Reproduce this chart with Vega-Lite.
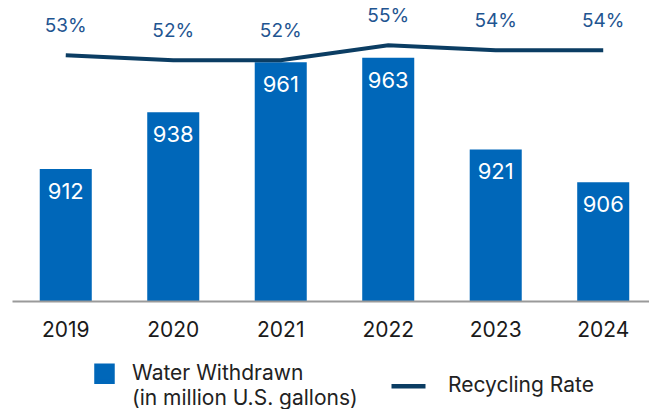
{
  "$schema": "https://vega.github.io/schema/vega-lite/v6.json",
  "width": 637,
  "height": 301,
  "padding": {"left": 12, "top": 0, "right": 0, "bottom": 0},
  "background": "white",
  "config": {
    "view": {"stroke": null},
    "font": "Inter",
    "axis": {"grid": false}
  },
  "data": {
    "values": [
      {"year": "2019", "withdrawn": 912, "rate": 53, "rate_label": "53%"},
      {"year": "2020", "withdrawn": 938, "rate": 52, "rate_label": "52%"},
      {"year": "2021", "withdrawn": 961, "rate": 52, "rate_label": "52%"},
      {"year": "2022", "withdrawn": 963, "rate": 55, "rate_label": "55%"},
      {"year": "2023", "withdrawn": 921, "rate": 54, "rate_label": "54%"},
      {"year": "2024", "withdrawn": 906, "rate": 54, "rate_label": "54%"}
    ]
  },
  "encoding": {
    "x": {
      "field": "year",
      "type": "ordinal",
      "scale": {"paddingInner": 0.516, "paddingOuter": 0.221, "align": 0.584},
      "axis": {
        "title": null,
        "labelAngle": 0,
        "ticks": false,
        "domainColor": "#9a9a9a",
        "domainWidth": 2,
        "labelFontSize": 21,
        "labelFont": "Inter",
        "labelColor": "#1a1a1a",
        "labelPadding": 18,
        "zindex": 1
      }
    }
  },
  "layer": [
    {
      "layer": [
        {
          "mark": {"type": "bar", "clip": true},
          "encoding": {
            "y": {"field": "withdrawn", "type": "quantitative", "scale": {"domain": [851.5, 989.5], "zero": false, "nice": false}, "axis": null},
            "color": {
              "datum": "Water Withdrawn",
              "type": "nominal",
              "scale": {"domain": ["Water Withdrawn", "Recycling Rate"], "range": ["#0067b9", "#0b3d63"]},
              "legend": {
                "title": null,
                "orient": "none",
                "legendX": 61,
                "legendY": 354,
                "direction": "horizontal",
                "symbolSize": 1156,
                "labelOffset": 20,
                "columnPadding": 24,
                "labelFontSize": 21,
                "labelFont": "Inter",
                "labelColor": "#222222",
                "labelLimit": 400,
                "labelExpr": "datum.label == 'Water Withdrawn' ? ['Water Withdrawn', '(in million U.S. gallons)'] : datum.label",
                "encode": {
                  "symbols": {
                    "update": {
                      "shape": {"signal": "datum.value == 'Water Withdrawn' ? 'M0.235,-0.47H1.176V0.47H0.235Z' : 'stroke'"},
                      "fill": {"signal": "datum.value == 'Water Withdrawn' ? '#0067b9' : 'transparent'"},
                      "stroke": {"signal": "datum.value == 'Water Withdrawn' ? 'transparent' : '#0b3d63'"},
                      "strokeWidth": {"value": 4.5},
                      "opacity": {"value": 1}
                    }
                  },
                  "labels": {"update": {"lineHeight": {"value": 25}}}
                }
              }
            }
          }
        },
        {
          "mark": {"type": "text", "dy": 23, "baseline": "middle", "color": "white", "fontSize": 22, "font": "Inter"},
          "encoding": {
            "y": {"field": "withdrawn", "type": "quantitative"},
            "text": {"field": "withdrawn", "type": "quantitative"}
          }
        }
      ]
    },
    {
      "layer": [
        {
          "mark": {"type": "line", "strokeWidth": 4},
          "encoding": {
            "y": {"field": "rate", "type": "quantitative", "scale": {"domain": [4, 64], "zero": false, "nice": false}, "axis": null},
            "color": {"datum": "Recycling Rate", "type": "nominal"}
          }
        },
        {
          "mark": {"type": "text", "dy": -29, "baseline": "middle", "color": "#1f5591", "fontSize": 19, "font": "Inter"},
          "encoding": {
            "y": {"field": "rate", "type": "quantitative"},
            "text": {"field": "rate_label", "type": "nominal"}
          }
        }
      ]
    }
  ],
  "resolve": {"scale": {"y": "independent"}}
}
